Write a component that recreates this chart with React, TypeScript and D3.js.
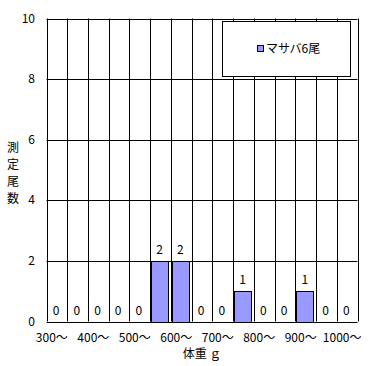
import * as d3 from "d3";

const categories = ["300", "350", "400", "450", "500", "550", "600", "650", "700", "750", "800", "850", "900", "950", "1000"];
const counts = [0, 0, 0, 0, 0, 2, 2, 0, 0, 1, 0, 0, 1, 0, 0];
const yTicks = [0, 2, 4, 6, 8, 10];
const xTickLabels = ["300〜", "400〜", "500〜", "600〜", "700〜", "800〜", "900〜", "1000〜"];
const seriesName = "マサバ6尾";

const W = 375;
const H = 366;
const FONT = "'Noto Sans CJK JP', sans-serif";
const BAR_FILL = "#9999ff";

const plot = { left: 46.5, right: 357.5, top: 18.5, bottom: 321.5 };

export default function App() {
  const x = d3
    .scaleBand<string>()
    .domain(categories)
    .range([plot.left, plot.right]);
  const y = d3.scaleLinear().domain([0, 10]).range([plot.bottom, plot.top]);
  const bw = x.bandwidth();
  const barW = bw * 0.82;

  return (
    <div style={{ position: "absolute", left: 0, top: 0 }}>
      <svg width={W} height={H} style={{ display: "block", background: "#fff" }}>
        {/* horizontal grid */}
        {yTicks.map((t) => (
          <line key={"h" + t} x1={plot.left} x2={plot.right} y1={Math.round(y(t)) + 0.5} y2={Math.round(y(t)) + 0.5} stroke="#000" />
        ))}
        {/* vertical grid */}
        {categories.concat(["end"]).map((c, i) => {
          const xx = Math.round(plot.left + i * bw) + 0.5;
          return <line key={"v" + i} x1={xx} x2={xx} y1={plot.top} y2={plot.bottom} stroke="#000" />;
        })}

        {/* bars */}
        {categories.map((c, i) => {
          const v = counts[i];
          const x0 = (x(c) ?? 0) + 1;
          return (
            <g key={c}>
              {v > 0 && (
                <rect x={Math.round(x0) + 0.5} y={Math.round(y(v)) + 0.5} width={Math.round(barW)} height={Math.round(y(0)) - Math.round(y(v))} fill={BAR_FILL} stroke="#000" />
              )}
              <text x={x0 + barW / 2} y={y(v) - 7} textAnchor="middle" fontSize={12} fontFamily={FONT} fill="#000">
                {v}
              </text>
            </g>
          );
        })}

        {/* y tick labels */}
        {yTicks.map((t) => (
          <text key={"yl" + t} x={35} y={y(t) + 4} textAnchor="end" fontSize={12} fontFamily={FONT} fill="#000">
            {t}
          </text>
        ))}

        {/* x tick labels: every other category */}
        {xTickLabels.map((lab, i) => {
          const c = categories[i * 2];
          return (
            <text key={lab} x={(x(c) ?? 0) + bw / 2 - 5} y={342} textAnchor="middle" fontSize={12} fontFamily={FONT} fill="#000">
              {lab}
            </text>
          );
        })}

        {/* axis titles */}
        <text x={(plot.left + plot.right) / 2} y={358} textAnchor="middle" fontSize={12} fontFamily={FONT} fill="#000">
          体重 ｇ
        </text>
        {"測定尾数".split("").map((ch, i) => (
          <text key={ch} x={13} y={152 + i * 17} textAnchor="middle" fontSize={12} fontFamily={FONT} fill="#000">
            {ch}
          </text>
        ))}

        {/* legend */}
        <rect x={222.5} y={21.5} width={128} height={55} fill="#fff" stroke="#000" />
        <rect x={257.5} y={45.5} width={6} height={6} fill={BAR_FILL} stroke="#000" />
        <text x={266} y={53} fontSize={12} fontFamily={FONT} fill="#000">
          {seriesName}
        </text>
      </svg>
    </div>
  );
}
